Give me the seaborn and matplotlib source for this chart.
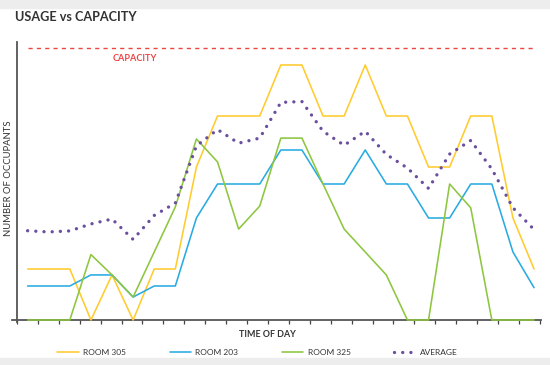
import numpy as np
import pandas as pd
import matplotlib.pyplot as plt
import seaborn as sns
from matplotlib.patches import Rectangle
from matplotlib.lines import Line2D

# time slots across the day (one value per slot)
slots = list(range(25))

room_305 = [3, 3, 3, 0, 2.65, 0, 3, 3, 9, 12, 12, 12, 15, 15, 12, 12, 15, 12, 12, 9, 9, 12, 12, 6, 3]
room_203 = [2, 2, 2, 2.65, 2.65, 1.35, 2, 2, 6, 8, 8, 8, 10, 10, 8, 8, 10, 8, 8, 6, 6, 8, 8, 4, 1.9]
room_325 = [0, 0, 0, 3.85, 2.65, 1.35, 4.0, 6.65, 10.65, 9.3, 5.35, 6.7, 10.7, 10.7, 8.0, 5.35, 4.0, 2.65, 0, 0, 8, 6.6, 0, 0, 0]
average = [5.25, 5.18, 5.24, 5.65, 5.94, 4.74, 6.15, 6.88, 10.24, 11.2, 10.4, 10.7, 12.8, 12.85,
           11.1, 10.28, 11.1, 9.74, 8.94, 7.74, 9.76, 10.56, 8.88, 6.6, 5.32]
capacity = 16

room_names = ['ROOM 305', 'ROOM 203', 'ROOM 325']
room_colors = ['#FFCB2F', '#29ABE2', '#8DC63F']
avg_color = '#6A4F9E'
cap_color = '#EE4444'
text_color = '#333333'
dot_style = (0, (0.01, 2.45))

sns.set_theme(style='white')
plt.rcParams['font.family'] = ['Lato', 'DejaVu Sans']

df = pd.DataFrame({
    'slot': slots * 3,
    'occupants': room_305 + room_203 + room_325,
    'room': [room_names[0]] * 25 + [room_names[1]] * 25 + [room_names[2]] * 25,
})

fig = plt.figure(figsize=(5.5, 3.65), dpi=100)
fig.patches.append(Rectangle((0, 1 - 7.5 / 365), 1, 7.5 / 365, transform=fig.transFigure,
                             color='#EDEDED', zorder=0))
fig.patches.append(Rectangle((0, 0), 1, 7 / 365, transform=fig.transFigure,
                             color='#EDEDED', zorder=0))

ax = fig.add_axes([12 / 550, 1 - 321.7 / 365, (541 - 12) / 550, (321.7 - 41.7) / 365])

sns.lineplot(data=df, x='slot', y='occupants', hue='room', palette=dict(zip(room_names, room_colors)),
             linewidth=1.15, ax=ax, legend=False, clip_on=False, zorder=3)
sns.lineplot(x=slots, y=average, color=avg_color, linewidth=2.4, linestyle=dot_style,
             dash_capstyle='round', ax=ax, zorder=4)

ax.hlines(capacity, 0, 24, colors=cap_color, linewidth=1.0, linestyles=(0, (3, 3)))
ax.text(4.05, capacity - 0.6, 'CAPACITY', color=cap_color, fontsize=6.6, fontweight='bold',
        va='center', ha='left')

ax.set_xlim(-0.74, 24.33)
ax.set_ylim(-0.1, 16.37)
for s in ['top', 'right']:
    ax.spines[s].set_visible(False)
ax.spines['left'].set_position(('data', -0.507))
ax.spines['bottom'].set_position(('data', 0))
ax.spines['left'].set_color('#555555')
ax.spines['bottom'].set_color('#555555')
ax.spines['left'].set_linewidth(1.3)
ax.spines['bottom'].set_linewidth(1.3)

ax.set_xticks(np.linspace(-0.507, 24.28, 26))
ax.set_xticklabels([])
ax.set_yticks([])
ax.tick_params(axis='x', direction='out', length=2.8, width=0.9, color='#444444', bottom=True)
ax.set_xlabel('')
ax.set_ylabel('')

fig.text(15 / 550, 1 - 17 / 365, 'USAGE vs CAPACITY', fontsize=9.1, fontweight='bold',
         color=text_color, va='center', ha='left')
fig.text(9 / 550, 1 - 178.5 / 365, 'NUMBER OF OCCUPANTS', fontsize=6.8, rotation=90,
         color=text_color, va='center', ha='center')
fig.text(267 / 550, 1 - 334.5 / 365, 'TIME OF DAY', fontsize=6.4, fontweight='bold',
         color=text_color, va='center', ha='center')

handles = [Line2D([], [], color=c, linewidth=1.15) for c in room_colors]
handles.append(Line2D([], [], color=avg_color, linewidth=2.4, linestyle=dot_style,
                      dash_capstyle='round'))
leg = fig.legend(handles, room_names + ['AVERAGE'], loc='center', ncol=4, frameon=False,
                 bbox_to_anchor=(257.5 / 550, 1 - 352.3 / 365), fontsize=6,
                 handlelength=2.6, handletextpad=0.5, columnspacing=5.2)
for t in leg.get_texts():
    t.set_color(text_color)

fig.savefig('out.png', dpi=100)
